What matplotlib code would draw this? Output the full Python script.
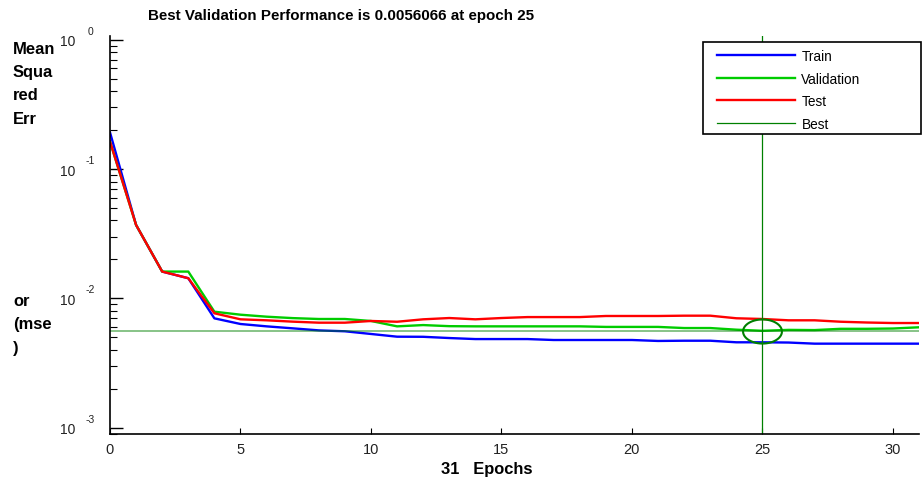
import numpy as np
import matplotlib
matplotlib.use("Agg")
import matplotlib.pyplot as plt
from matplotlib.path import Path
from matplotlib.patches import Rectangle
from matplotlib.ticker import FixedLocator, FixedFormatter, LogLocator, NullFormatter

# data
epochs = list(range(32))
train = [0.192, 0.0369, 0.0161, 0.0143, 0.0070, 0.00633, 0.00607, 0.00586, 0.00565, 0.00556,
         0.0053, 0.00505, 0.00504, 0.00493, 0.00484, 0.00484, 0.00484, 0.00476, 0.00476, 0.00476,
         0.00476, 0.00468, 0.0047, 0.0047, 0.00457, 0.00457, 0.00455, 0.00446, 0.00446, 0.00446,
         0.00446, 0.00446]
validation = [0.163, 0.0369, 0.0161, 0.0161, 0.00788, 0.00747, 0.00721, 0.00703, 0.00692, 0.00692,
              0.00668, 0.00607, 0.00621, 0.00609, 0.00607, 0.00607, 0.00607, 0.00607, 0.00607, 0.00601,
              0.00601, 0.00601, 0.00589, 0.00589, 0.00572, 0.0056066, 0.0057, 0.00568, 0.00581, 0.00581,
              0.00584, 0.00597]
test = [0.163, 0.0369, 0.0161, 0.0143, 0.00766, 0.00688, 0.00676, 0.0066, 0.00648, 0.00648,
        0.00668, 0.00659, 0.00688, 0.00704, 0.00688, 0.00704, 0.00716, 0.00716, 0.00716, 0.0073,
        0.0073, 0.0073, 0.00734, 0.00734, 0.00701, 0.00692, 0.00676, 0.00676, 0.00659, 0.0065,
        0.00644, 0.00644]
best_epoch = 25
best_perf = 0.0056066

ytick_vals = [1e0, 1e-1, 1e-2, 1e-3]
ytick_exps = ['0', '-1', '-2', '-3']
xtick_vals = [0, 5, 10, 15, 20, 25, 30]

plt.rcParams['font.family'] = ['Liberation Sans', 'DejaVu Sans']

W, H = 924, 481
fig = plt.figure(figsize=(W / 100, H / 100), dpi=100)
ax = fig.add_axes([110 / W, 1 - 434.7 / H, 809 / W, (434.7 - 36.7) / H])

ax.plot(epochs, train, color='#0000ff', lw=1.7, label='Train')
ax.plot(epochs, validation, color='#00cc00', lw=1.7, label='Validation')
ax.plot(epochs, test, color='#ff0000', lw=1.7, label='Test')
ax.axhline(best_perf, color='#008000', lw=1.2, alpha=0.55)
ax.axvline(best_epoch, color='#008000', lw=0.9, label='Best')

# ellipse marking the best point
t = np.linspace(0, 2 * np.pi, 60)
ell = Path(np.column_stack([np.cos(t), 0.62 * np.sin(t)]))
ax.plot([best_epoch], [best_perf], marker=ell, markersize=28, markerfacecolor='none',
        markeredgecolor='#008000', markeredgewidth=1.5, linestyle='none')

ax.set_yscale('log')
ax.set_xlim(0, 31)
ax.set_ylim(10 ** -3.047, 10 ** 0.031)

ax.yaxis.set_major_locator(FixedLocator(ytick_vals))
ax.yaxis.set_major_formatter(FixedFormatter(['10'] * len(ytick_vals)))
ax.yaxis.set_minor_locator(LogLocator(base=10, subs=np.arange(2, 10)))
ax.yaxis.set_minor_formatter(NullFormatter())
ax.set_xticks(xtick_vals)

ax.tick_params(axis='y', which='major', direction='in', length=9, width=1, pad=25, labelsize=10)
ax.tick_params(axis='y', which='minor', direction='in', length=5, width=0.8)
ax.tick_params(axis='x', which='major', direction='in', length=4, width=0.8, pad=6, labelsize=10.5)
for lab in ax.get_yticklabels() + ax.get_xticklabels():
    lab.set_color('#222222')

for v, e in zip(ytick_vals, ytick_exps):
    ax.annotate(e, xy=(0, v), xycoords=('axes fraction', 'data'), xytext=(-20, 9),
                textcoords='offset pixels', ha='center', va='center', fontsize=7.5, color='#222222')

ax.spines['top'].set_visible(False)
ax.spines['right'].set_visible(False)
for s in ['left', 'bottom']:
    ax.spines[s].set_linewidth(1.2)

# legend box drawn as a rectangle in figure coords, entries on top of it
ax.add_patch(Rectangle((703 / W, 1 - 135 / H), 218 / W, 92 / H, transform=fig.transFigure,
                       facecolor='white', edgecolor='black', linewidth=1.2, zorder=4,
                       clip_on=False))
leg = ax.legend(loc='upper left', bbox_to_anchor=(717 / W, 1 - 50 / H),
                bbox_transform=fig.transFigure, borderaxespad=0, borderpad=0,
                fontsize=9.8, handlelength=5.7, labelspacing=0.63, frameon=False,
                handletextpad=0.5)
leg.set_zorder(6)

fig.text(341 / W, 1 - 16 / H, 'Best Validation Performance is 0.0056066 at epoch 25',
         ha='center', va='center', fontsize=10.9, fontweight='bold')
fig.text(487 / W, 1 - 470 / H, '31   Epochs', ha='center', va='center',
         fontsize=11.9, fontweight='bold')

ylab_lines = [('Mean', 50), ('Squa', 73), ('red', 96), ('Err', 119),
              ('or', 302), ('(mse', 325), (')', 348)]
for txt, yy in ylab_lines:
    fig.text(13 / W, 1 - yy / H, txt, ha='left', va='center', fontsize=11.9, fontweight='bold')

fig.savefig('out.png', dpi=100)
